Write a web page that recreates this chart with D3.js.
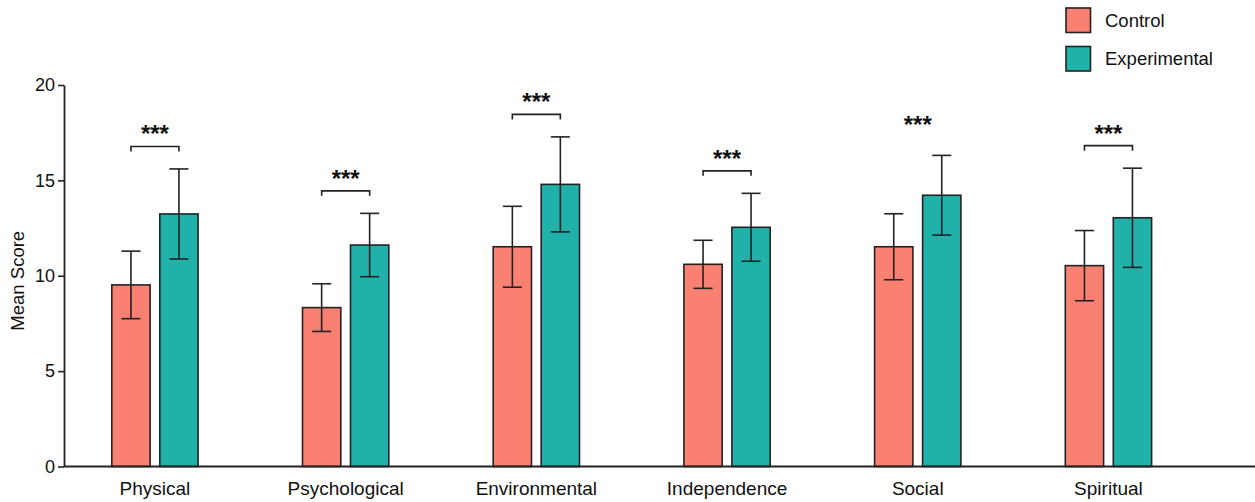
<!DOCTYPE html>
<html>
<head>
<meta charset="utf-8">
<script src="https://cdn.jsdelivr.net/npm/d3@7"></script>
<style>
  html, body { margin: 0; padding: 0; background: #fff; }
  svg { display: block; font-family: "Liberation Sans", Arial, sans-serif; }
</style>
</head>
<body>
<svg id="chart" width="1255" height="502"></svg>
<script>
// Domains and their group means / standard deviations
const categories = ["Physical", "Psychological", "Environmental", "Independence", "Social", "Spiritual"];
const groups = ["Control", "Experimental"];
const controlMean = [9.52, 8.33, 11.52, 10.60, 11.52, 10.53];
const controlSD   = [1.77, 1.25, 2.12, 1.26, 1.73, 1.84];
const expMean     = [13.24, 11.61, 14.79, 12.54, 14.22, 13.04];
const expSD       = [2.36, 1.66, 2.49, 1.78, 2.09, 2.60];
const significance = ["***", "***", "***", "***", "***", "***"];
const showBracket  = [true, true, true, true, false, true];
const yTicks = [0, 5, 10, 15, 20];

const colors = { Control: "#FA8072", Experimental: "#20B2AA" };
const stroke = "#222";

const svg = d3.select("#chart");
const plot = { left: 64, right: 1255, top: 85, bottom: 466.5 };

const x = d3.scaleBand()
  .domain(categories)
  .range([59.6, 1203.8])
  .paddingInner(0)
  .paddingOuter(0);

const barW = 38.3, barGap = 9.7;
const sub = d3.scaleOrdinal().domain(groups)
  .range([-(barGap / 2 + barW), barGap / 2]);

const y = d3.scaleLinear().domain([0, 20]).range([plot.bottom, plot.top]);

// rows for bars
const rows = [];
categories.forEach((c, i) => {
  rows.push({ cat: c, group: "Control", mean: controlMean[i], sd: controlSD[i] });
  rows.push({ cat: c, group: "Experimental", mean: expMean[i], sd: expSD[i] });
});
const cx = d => x(d.cat) + x.bandwidth() / 2 + sub(d.group);

// bars
svg.append("g").selectAll("rect").data(rows).join("rect")
  .attr("x", d => cx(d))
  .attr("y", d => y(d.mean))
  .attr("width", barW)
  .attr("height", d => y(0) - y(d.mean))
  .attr("fill", d => colors[d.group])
  .attr("stroke", stroke)
  .attr("stroke-width", 1.6);

// error bars
const capHalf = 9.5;
const eb = svg.append("g").attr("stroke", stroke).attr("stroke-width", 1.6);
rows.forEach(d => {
  const mx = cx(d) + barW / 2;
  const top = y(d.mean + d.sd), bot = y(d.mean - d.sd);
  eb.append("line").attr("x1", mx).attr("x2", mx).attr("y1", top).attr("y2", bot);
  eb.append("line").attr("x1", mx - capHalf).attr("x2", mx + capHalf).attr("y1", top).attr("y2", top);
  eb.append("line").attr("x1", mx - capHalf).attr("x2", mx + capHalf).attr("y1", bot).attr("y2", bot);
});

// significance brackets and stars
const sig = svg.append("g");
categories.forEach((c, i) => {
  const c0 = x(c) + x.bandwidth() / 2 + sub("Control") + barW / 2;
  const c1 = x(c) + x.bandwidth() / 2 + sub("Experimental") + barW / 2;
  const errTop = y(expMean[i] + expSD[i]);
  let starY;
  if (showBracket[i]) {
    const by = errTop - 22.5;
    sig.append("path")
      .attr("d", `M${c0},${by + 5}V${by}H${c1}V${by + 5}`)
      .attr("fill", "none").attr("stroke", stroke).attr("stroke-width", 1.6);
    starY = by - 4;
  } else {
    starY = errTop - 22;
  }
  sig.append("text")
    .attr("x", (c0 + c1) / 2).attr("y", starY)
    .attr("text-anchor", "middle")
    .attr("font-size", 24).attr("font-weight", "bold").attr("fill", "#111")
    .text(significance[i]);
});

// y axis
const yAxis = svg.append("g")
  .attr("transform", `translate(${plot.left},0)`)
  .call(d3.axisLeft(y).tickValues(yTicks).tickSize(6).tickPadding(3).tickSizeOuter(0));
yAxis.select(".domain").attr("stroke", stroke).attr("stroke-width", 1.8);
yAxis.selectAll(".tick line").attr("stroke", stroke).attr("stroke-width", 1.6);
yAxis.selectAll(".tick text").attr("font-size", 18).attr("fill", "#111")
  .attr("font-family", "Liberation Sans, Arial, sans-serif");

// x axis
const xAxis = svg.append("g")
  .attr("transform", `translate(0,${plot.bottom})`)
  .call(d3.axisBottom(x).tickSize(0).tickPadding(15).tickSizeOuter(0));
xAxis.select(".domain").attr("d", `M${plot.left},0H${plot.right}`)
  .attr("stroke", stroke).attr("stroke-width", 2.2);
xAxis.selectAll(".tick text").attr("font-size", 19).attr("fill", "#111")
  .attr("font-family", "Liberation Sans, Arial, sans-serif");

// y label
svg.append("text")
  .attr("transform", `translate(24,${(plot.top + plot.bottom) / 2 + 5}) rotate(-90)`)
  .attr("text-anchor", "middle")
  .attr("font-size", 18.5).attr("fill", "#111")
  .text("Mean Score");

// legend
const lg = svg.append("g").attr("transform", "translate(1066,8)");
groups.forEach((g, i) => {
  const row = lg.append("g").attr("transform", `translate(0,${i * 38.5})`);
  row.append("rect").attr("width", 24.5).attr("height", 24.5)
    .attr("fill", colors[g]).attr("stroke", stroke).attr("stroke-width", 1.6);
  row.append("text").attr("x", 39).attr("y", 12.5).attr("dy", "0.35em")
    .attr("font-size", 18.5).attr("fill", "#111").text(g);
});
</script>
</body>
</html>
